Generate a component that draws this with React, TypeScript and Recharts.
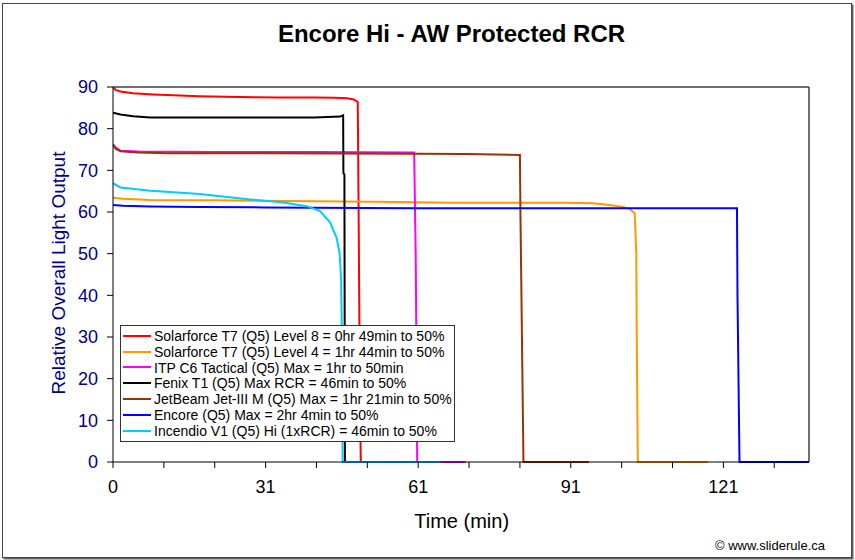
import { LineChart, Line, XAxis, YAxis, Legend, ReferenceLine } from 'recharts';

type Pt = [number, number];

const FONT = '"Liberation Sans", Arial, sans-serif';

// time (min), relative output
const solarforceL8: Pt[] = [
  [0, 90], [0.5, 89.3], [1.5, 88.9], [4, 88.5], [8, 88.2], [12, 88.0], [17, 87.8], [25, 87.6],
  [33, 87.5], [40, 87.5], [44, 87.4], [46.5, 87.3], [47.8, 87.0], [48.6, 86.4], [48.8, 55],
  [49.0, 20], [49.2, 0],
];
const solarforceL4: Pt[] = [
  [0, 63.4], [2, 63.2], [7.4, 62.9], [20, 62.8], [40, 62.6], [57, 62.4], [67, 62.2], [80, 62.2],
  [90, 62.2], [95.3, 62.1], [98.7, 61.7], [101.3, 61.2], [102.6, 60.7], [103.6, 59.7],
  [103.9, 50], [104.0, 30], [104.2, 0], [118.2, 0],
];
const itpC6: Pt[] = [
  [0, 76.2], [0.5, 75.5], [1.5, 74.7], [5, 74.5], [20, 74.4], [40, 74.4], [59.8, 74.3],
  [60.1, 50], [60.3, 20], [60.4, 0], [70, 0],
];
const fenixT1: Pt[] = [
  [0, 83.8], [1.5, 83.4], [4, 83.0], [7.4, 82.7], [15, 82.7], [30, 82.7], [40, 82.7],
  [45.1, 82.9], [45.7, 83.2], [45.75, 69.3], [45.95, 69.0], [46.05, 0],
];
const jetBeam: Pt[] = [
  [0, 76.2], [0.5, 75.2], [1.5, 74.6], [5, 74.3], [11, 74.1], [30, 74.1], [60, 74.0],
  [70, 73.9], [80.8, 73.7], [80.9, 60], [81.2, 30], [81.5, 0], [94.5, 0],
];
const encore: Pt[] = [
  [0, 61.7], [2, 61.5], [7.4, 61.3], [17, 61.2], [30, 61.1], [40, 61.0], [60, 60.9],
  [90, 60.9], [110, 60.9], [123.9, 60.9], [124.0, 40], [124.4, 0], [138.2, 0],
];
const incendio: Pt[] = [
  [0, 66.9], [1.5, 65.9], [7.4, 65.1], [17.3, 64.3], [27.2, 63.0], [33.8, 62.3], [38.5, 61.4],
  [41.1, 60.2], [43.1, 57.5], [44.4, 53.8], [45.0, 50.1], [45.3, 43.7], [45.5, 25], [45.6, 0],
  [65, 0],
];

const seriesNames = [
  'Solarforce T7 (Q5) Level 8 = 0hr 49min to 50%',
  'Solarforce T7 (Q5) Level 4 = 1hr 44min to 50%',
  'ITP C6 Tactical (Q5) Max = 1hr to 50min',
  'Fenix T1 (Q5) Max RCR = 46min to 50%',
  'JetBeam Jet-III M (Q5) Max = 1hr 21min to 50%',
  'Encore (Q5) Max = 2hr 4min to 50%',
  'Incendio V1 (Q5) Hi (1xRCR) = 46min to 50%',
];
const seriesColors = ['#ff0000', '#ff9900', '#ff00ff', '#000000', '#993300', '#0000ff', '#00ccff'];
const seriesData = [solarforceL8, solarforceL4, itpC6, fenixT1, jetBeam, encore, incendio];

const xTicks = [0, 10.1, 20.2, 30.3, 40.4, 50.5, 60.6, 70.7, 80.8, 90.9, 101, 111.1, 121.2, 131.3];
const xTickLabels = ['0', '', '', '31', '', '', '61', '', '', '91', '', '', '121', ''];
const yTicks = [0, 10, 20, 30, 40, 50, 60, 70, 80, 90];
const X_MAX = 138.2;

function ChartLegend() {
  return (
    <div
      style={{
        border: '1px solid #333',
        background: '#fff',
        width: 333,
        height: 113,
        paddingTop: 2,
        boxSizing: 'content-box',
        fontFamily: FONT,
        fontSize: 14,
        color: '#000',
        textAlign: 'left',
      }}
    >
      {seriesNames.map((name, i) => (
        <div key={name} style={{ display: 'flex', alignItems: 'center', height: 15.8, whiteSpace: 'nowrap' }}>
          <svg width={31} height={6} style={{ flex: 'none' }}>
            <line x1={2} y1={3} x2={30} y2={3} stroke={seriesColors[i]} strokeWidth={2} />
          </svg>
          <span style={{ marginLeft: 2 }}>{name}</span>
        </div>
      ))}
    </div>
  );
}

export default function App() {
  return (
    <div style={{ position: 'absolute', left: 0, top: 0, width: 855, height: 560, background: '#fff', fontFamily: FONT }}>
      <div
        style={{
          position: 'absolute',
          left: 2,
          top: 3,
          width: 848,
          height: 553,
          border: '1px solid #444',
          boxShadow: '1.5px 1.5px 0 #666',
        }}
      />
      <LineChart width={855} height={560} margin={{ top: 87, right: 46, bottom: 58, left: 33 }}>
        <XAxis
          type="number"
          dataKey="t"
          domain={[0, X_MAX]}
          ticks={xTicks}
          tickFormatter={(_v: number, i: number) => xTickLabels[i]}
          interval={0}
          allowDataOverflow
          height={40}
          tickSize={6}
          tickMargin={12}
          stroke="#000"
          tick={{ fill: '#000', fontSize: 18, fontFamily: FONT }}
        />
        <YAxis
          type="number"
          domain={[0, 90]}
          ticks={yTicks}
          interval={0}
          width={80}
          tickSize={6}
          tickMargin={9}
          stroke="#000"
          tick={{ fill: '#000080', fontSize: 18, fontFamily: FONT }}
        />
        <ReferenceLine y={90} stroke="#404040" strokeWidth={1.5} />
        <ReferenceLine x={X_MAX} stroke="#404040" strokeWidth={1.5} />
        {seriesData.map((pts, i) => (
          <Line
            key={seriesNames[i]}
            data={pts.map(([t, v]) => ({ t, v }))}
            dataKey="v"
            name={seriesNames[i]}
            type="linear"
            stroke={seriesColors[i]}
            strokeWidth={2}
            dot={false}
            isAnimationActive={false}
          />
        ))}
        <Legend
          layout="vertical"
          align="center"
          verticalAlign="middle"
          content={() => <ChartLegend />}
          wrapperStyle={{ position: 'absolute', left: 120, top: 325, width: 335, height: 116, margin: 0 }}
        />
      </LineChart>
      <svg width={855} height={560} style={{ position: 'absolute', left: 0, top: 0, pointerEvents: 'none' }}>
        <text x={451.5} y={41.5} textAnchor="middle" fontSize={24} fontWeight="bold" fontFamily={FONT} fill="#000">
          Encore Hi - AW Protected RCR
        </text>
        <text x={461.7} y={528} textAnchor="middle" fontSize={20} fontFamily={FONT} fill="#000">
          Time (min)
        </text>
        <text
          transform="translate(65,273) rotate(-90)"
          textAnchor="middle"
          fontSize={19}
          fontFamily={FONT}
          fill="#000080"
        >
          Relative Overall Light Output
        </text>
        <text x={825} y={550} textAnchor="end" fontSize={13} fontFamily={FONT} fill="#000">
          © www.sliderule.ca
        </text>
      </svg>
    </div>
  );
}
